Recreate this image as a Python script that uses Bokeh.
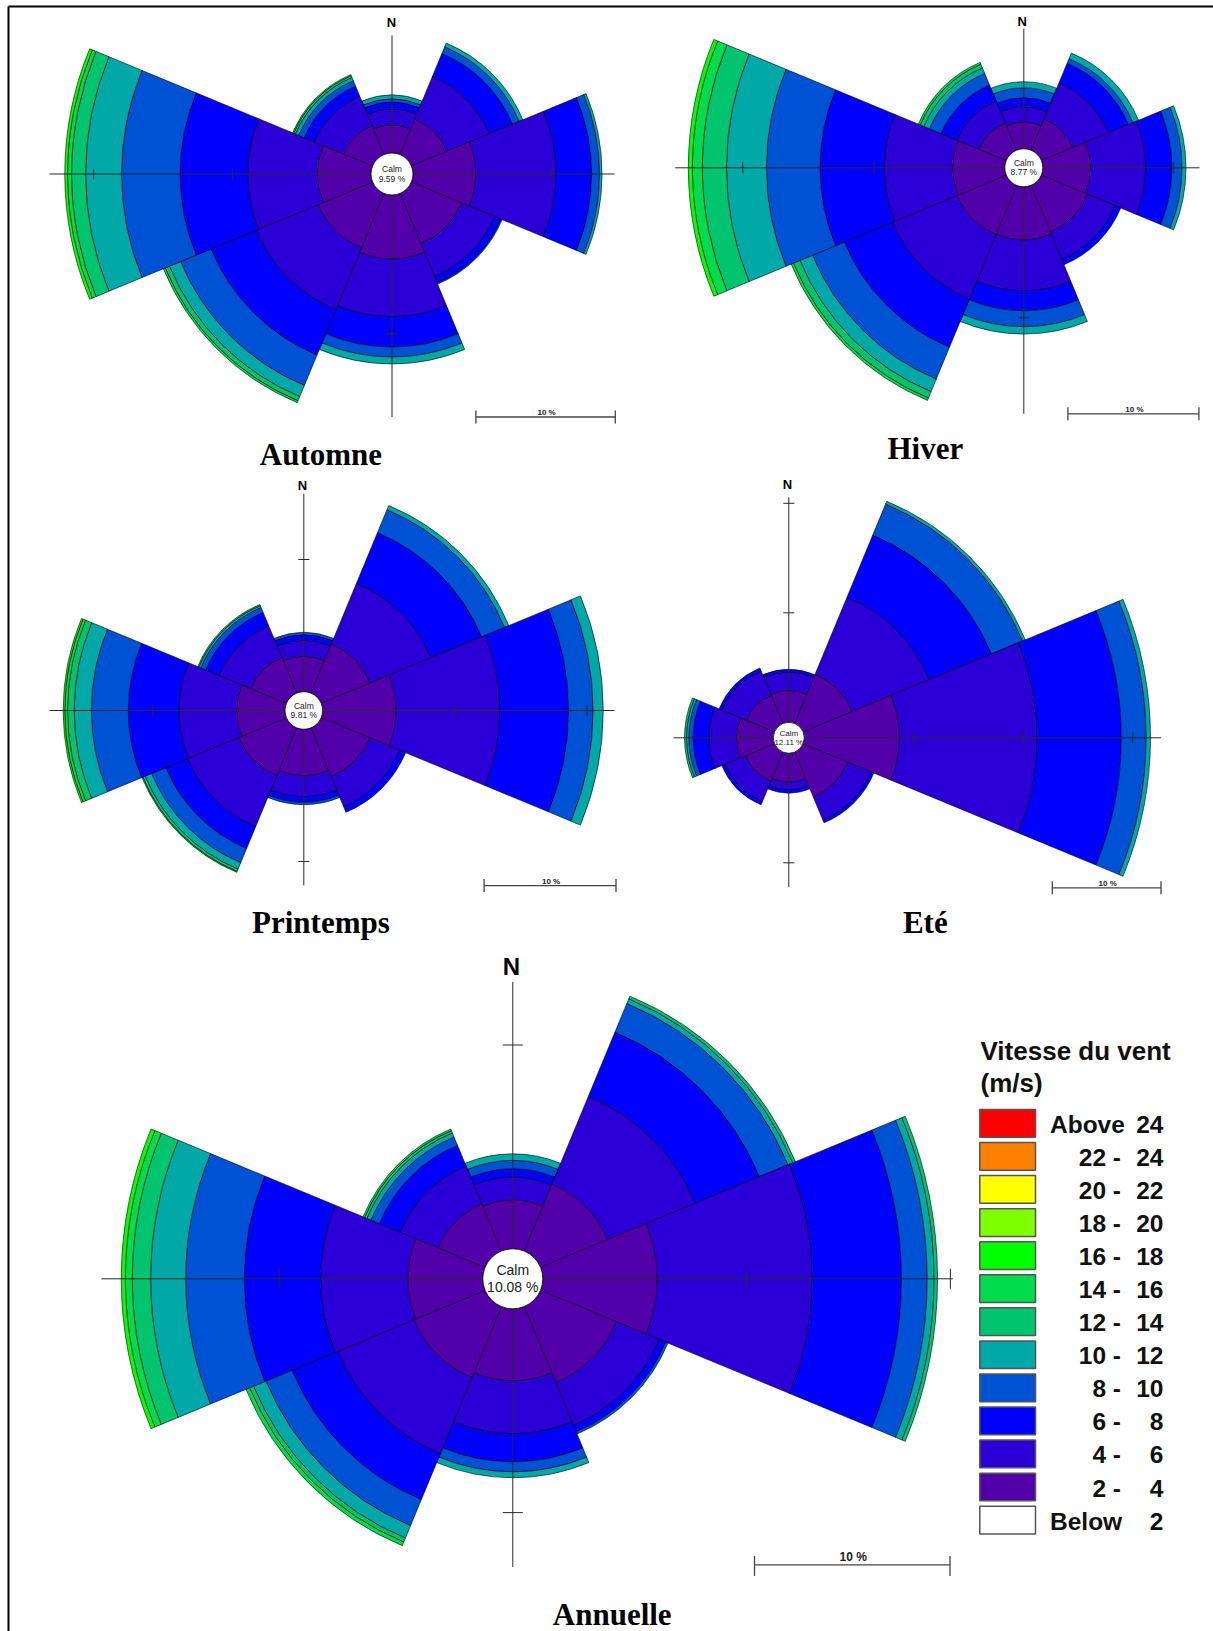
import math
from bokeh.plotting import figure
from bokeh.models import Range1d, ColumnDataSource
from bokeh.core.properties import value
from bokeh.embed import file_html
from bokeh.resources import INLINE

# ---------------------------------------------------------------- data
directions = ["N", "NE", "E", "SE", "S", "SW", "W", "NW"]
direction_deg = [0, 45, 90, 135, 180, 225, 270, 315]

speed_labels = ["2 - 4", "4 - 6", "6 - 8", "8 - 10", "10 - 12", "12 - 14",
                "14 - 16", "16 - 18", "18 - 20", "20 - 22", "22 - 24", "Above 24"]
speed_colors = ["#5200AA", "#2B00D6", "#0000FF", "#0052D4", "#00A8A8", "#00C46E",
                "#00DC4C", "#00FF00", "#80FF00", "#FFFF00", "#FF8000", "#FF0000"]

# frequency (%) per direction (N, NE, E, SE, S, SW, W, NW), per speed class from 2-4 m/s upward
calm_automne = 9.59
automne_freq = [
    [2.02, 1.15, 0.49, 0.23, 0.29],
    [2.78, 3.30, 1.81, 0.52, 0.29],
    [4.52, 5.79, 2.57, 0.57, 0.18],
    [3.93, 2.56, 0.51, 0.08],
    [4.61, 4.16, 2.19, 0.72, 0.50],
    [4.25, 4.83, 3.54, 2.37, 0.87, 0.33, 0.14],
    [3.86, 5.03, 4.88, 4.22, 2.59, 1.01, 0.29, 0.20],
    [2.26, 2.28, 0.80, 0.43, 0.25, 0.14, 0.08],
]

calm_hiver = 8.77
hiver_freq = [
    [2.04, 1.17, 0.69, 0.75, 0.47],
    [2.60, 2.94, 1.65, 0.38, 0.46],
    [3.63, 4.22, 2.01, 0.77, 0.30],
    [3.86, 2.24, 0.46],
    [4.05, 3.88, 1.53, 1.22, 0.56],
    [4.09, 5.31, 3.98, 2.63, 1.04, 0.53, 0.19],
    [3.98, 5.22, 4.91, 4.09, 3.05, 1.84, 0.76, 0.31],
    [2.26, 1.83, 1.30, 0.96, 0.45, 0.31, 0.15],
]

calm_printemps = 9.81
printemps_freq = [
    [2.67, 1.21, 0.42, 0.18],
    [4.03, 4.96, 4.15, 1.88, 0.34],
    [5.56, 7.85, 5.20, 1.85, 0.77],
    [3.99, 2.46, 0.46],
    [3.50, 1.59, 0.43, 0.18],
    [3.92, 4.16, 1.80, 1.16, 0.53, 0.19, 0.07],
    [3.65, 4.37, 3.84, 2.79, 1.30, 0.50, 0.21, 0.12],
    [2.93, 2.58, 1.10, 0.41, 0.15, 0.09],
]

calm_ete = 12.11
ete_freq = [
    [2.90, 1.68, 0.24],
    [4.86, 7.62, 6.14, 3.07, 0.27],
    [8.69, 12.59, 7.67, 2.27, 0.40],
    [4.43, 2.28, 0.28],
    [2.63, 0.70, 0.30],
    [2.88, 2.05, 0.28],
    [3.36, 2.53, 1.43, 0.40, 0.21, 0.18],
    [2.79, 2.42, 0.27],
]

calm_annuelle = 10.08
annuelle_freq = [
    [2.40, 1.12, 0.41, 0.41, 0.32],
    [3.56, 4.66, 3.41, 1.52, 0.25, 0.14],
    [5.61, 7.62, 4.37, 1.26, 0.34, 0.17],
    [4.04, 2.27, 0.34, 0.12],
    [3.53, 2.60, 1.38, 0.49, 0.29],
    [3.78, 4.04, 2.44, 1.38, 0.66, 0.21, 0.19],
    [3.68, 4.28, 3.75, 2.87, 1.72, 0.90, 0.34, 0.20],
    [2.50, 2.01, 1.11, 0.44, 0.22, 0.12, 0.08],
]

season_titles = ["Automne", "Hiver", "Printemps", "Eté", "Annuelle"]
legend_title = ["Vitesse du vent", "(m/s)"]
legend_left = ["Above", "22 -", "20 -", "18 -", "16 -", "14 -", "12 -", "10 -",
               "8 -", "6 -", "4 -", "2 -", "Below"]
legend_right = ["24", "24", "22", "20", "18", "16", "14", "12", "10", "8", "6", "4", "2"]
legend_colors = list(reversed(speed_colors)) + ["#FFFFFF"]
ring_step = 10.0  # % between axis ticks
scale_label = "10 %"

# ---------------------------------------------------------------- layout (page px)
X0, X1, Y0, Y1 = 0, 1213, 0, 1631
SANS = value("Liberation Sans")
SERIF = value("Liberation Serif")

roses = [
    dict(key="automne", freq=automne_freq, calm=calm_automne, title=season_titles[0],
         c=(391.5, 173.5), r0=21.0, s=13.87, ext=(138.5, 243, 342.5, 222.5), tick=5.5,
         n=(391, 22), nfs=13, tpos=(320.4, 453.6), bar=(475.4, 614.8, 416.5),
         bfs=8, cfs=8.5, coff=(-5, 4.5)),
    dict(key="hiver", freq=hiver_freq, calm=calm_hiver, title=season_titles[1],
         c=(1023.3, 167.3), r0=19.0, s=13.1, ext=(139, 246, 348.6, 175.7), tick=5.5,
         n=(1021.8, 21), nfs=13, tpos=(924.8, 448.4), bar=(1067.4, 1198.4, 413.3),
         bfs=8, cfs=8.5, coff=(-5, 4.5)),
    dict(key="printemps", freq=printemps_freq, calm=calm_printemps, title=season_titles[2],
         c=(303.3, 710.0), r0=18.8, s=13.22, ext=(216.7, 175, 254.3, 310.7), tick=5.5,
         n=(302, 485), nfs=13, tpos=(320.4, 921.7), bar=(483.6, 615.5, 885.1),
         bfs=8, cfs=8.5, coff=(-5, 4.5)),
    dict(key="ete", freq=ete_freq, calm=calm_ete, title=season_titles[3],
         c=(788.3, 737.3), r0=15.5, s=10.95, ext=(240.6, 149.4, 115.4, 372.4), tick=5.5,
         n=(786.9, 483.5), nfs=13, tpos=(924.8, 921.7), bar=(1051.8, 1160.5, 887.3),
         bfs=8, cfs=8, coff=(-4.6, 4.4)),
    dict(key="annuelle", freq=annuelle_freq, calm=calm_annuelle, title=season_titles[4],
         c=(512.3, 1278.3), r0=30.0, s=20.38, ext=(296.9, 288.2, 411.4, 440), tick=10,
         n=(510.8, 966), nfs=24, tpos=(611.7, 1613.5), bar=(754.0, 949.5, 1564.4),
         bfs=12, cfs=14, coff=(-9.3, 8.4)),
]

p = figure(width=X1 - X0, height=Y1 - Y0, x_range=Range1d(X0, X1), y_range=Range1d(Y1, Y0),
           output_backend="svg", toolbar_location=None, x_axis_type=None, y_axis_type=None,
           min_border=0, outline_line_color=None, background_fill_color="white")
p.grid.visible = False

xr_map, yr_map = {}, {}
for R in roses:
    cx, cy = R["c"]
    s = R["s"]
    xr_map[R["key"] + "_x"] = Range1d((X0 - cx) / s, (X1 - cx) / s)
    yr_map[R["key"] + "_y"] = Range1d((cy - Y1) / s, (cy - Y0) / s)
p.extra_x_ranges = xr_map
p.extra_y_ranges = yr_map

# petals
for R in roses:
    s = R["s"]
    r0 = R["r0"] / s
    rows = dict(inner=[], outer=[], start=[], end=[], color=[])
    for d, fr in zip(direction_deg, R["freq"]):
        cum = r0
        for k, f in enumerate(fr):
            rows["inner"].append(cum)
            cum += f
            rows["outer"].append(cum)
            rows["start"].append(math.radians(90 - d - 22.5))
            rows["end"].append(math.radians(90 - d + 22.5))
            rows["color"].append(speed_colors[k])
    p.annular_wedge(x=0, y=0, inner_radius="inner", outer_radius="outer",
                    start_angle="start", end_angle="end", fill_color="color",
                    line_color="black", line_width=0.6, source=ColumnDataSource(rows),
                    x_range_name=R["key"] + "_x", y_range_name=R["key"] + "_y")

# axes cross + ticks
for R in roses:
    s = R["s"]
    up, down, left, right = (e / s for e in R["ext"])
    h = R["tick"] / s
    x0s, y0s, x1s, y1s = [0, -left], [up, 0], [0, right], [-down, 0]
    r0 = R["r0"] / s
    for k in range(1, 4):
        rr = r0 + ring_step * k
        if rr <= up + 0.05:
            x0s.append(-h); y0s.append(rr); x1s.append(h); y1s.append(rr)
        if rr <= down + 0.05:
            x0s.append(-h); y0s.append(-rr); x1s.append(h); y1s.append(-rr)
        if rr <= left + 0.05:
            x0s.append(-rr); y0s.append(-h); x1s.append(-rr); y1s.append(h)
        if rr <= right + 0.05:
            x0s.append(rr); y0s.append(-h); x1s.append(rr); y1s.append(h)
    p.segment(x0=x0s, y0=y0s, x1=x1s, y1=y1s, line_color="#2a2a2a", line_width=1,
              x_range_name=R["key"] + "_x", y_range_name=R["key"] + "_y")

# calm circles
for R in roses:
    p.circle(x=[0], y=[0], radius=R["r0"] / R["s"], fill_color="white", line_color="black",
             line_width=0.8, x_range_name=R["key"] + "_x", y_range_name=R["key"] + "_y")

# texts
for R in roses:
    cx, cy = R["c"]
    p.text(x=[cx, cx], y=[cy + R["coff"][0], cy + R["coff"][1]],
           text=["Calm", f"{R['calm']:.2f} %"], text_font=SANS, text_font_size=f"{R['cfs']}px",
           text_color="#222222", text_align="center", text_baseline="middle")
    p.text(x=[R["n"][0]], y=[R["n"][1]], text=["N"], text_font=SANS, text_font_style="bold",
           text_font_size=f"{R['nfs']}px", text_color="black", text_align="center",
           text_baseline="middle")
    p.text(x=[R["tpos"][0]], y=[R["tpos"][1]], text=[R["title"]], text_font=SERIF,
           text_font_style="bold", text_font_size="31px", text_color="black",
           text_align="center", text_baseline="middle")
    bx0, bx1, by = R["bar"]
    big = R["key"] == "annuelle"
    ta, tb = (9, 11) if big else (6.5, 6.5)
    p.segment(x0=[bx0, bx0, bx1], y0=[by, by - ta, by - ta], x1=[bx1, bx0, bx1],
              y1=[by, by + tb, by + tb], line_color="#444444", line_width=1.3)
    p.text(x=[(bx0 + bx1) / 2 + 1], y=[by - (7.5 if big else 4.5)], text=[scale_label],
           text_font=SANS, text_font_style="bold", text_font_size=f"{R['bfs']}px",
           text_color="#222222", text_align="center", text_baseline="middle")

# legend
lx0, lx1, ly0, lstep, lh = 979.3, 1035.0, 1109.0, 33.06, 27.7
tops = [ly0 + i * lstep for i in range(len(legend_colors))]
p.quad(left=lx0, right=lx1, top=tops, bottom=[t + lh for t in tops], fill_color=legend_colors,
       line_color="#555555", line_width=1.5)
p.text(x=[980.0, 980.0], y=[1050, 1082], text=legend_title, text_font=SANS,
       text_font_style="bold", text_font_size="26px", text_color="#111111",
       text_align="left", text_baseline="alphabetic")
mids = [t + lh / 2 + 1 for t in tops]
first_last = [0, len(legend_left) - 1]
p.text(x=[1049.5] * 2, y=[mids[i] for i in first_last], text=[legend_left[i] for i in first_last],
       text_font=SANS, text_font_style="bold", text_font_size="24.5px", text_color="#111111",
       text_align="left", text_baseline="middle")
mid_idx = list(range(1, len(legend_left) - 1))
p.text(x=[1120.5] * len(mid_idx), y=[mids[i] for i in mid_idx],
       text=[legend_left[i] for i in mid_idx], text_font=SANS, text_font_style="bold",
       text_font_size="24.5px", text_color="#111111", text_align="right", text_baseline="middle")
p.text(x=[1163] * len(legend_right), y=mids, text=legend_right, text_font=SANS,
       text_font_style="bold", text_font_size="24.5px", text_color="#111111",
       text_align="right", text_baseline="middle")

# page frame lines (top and left)
p.segment(x0=[8, 8], y0=[6, 6], x1=[X1, 8], y1=[6, Y1], line_color="black", line_width=2)

open("out.html", "w").write(file_html(p, INLINE))
